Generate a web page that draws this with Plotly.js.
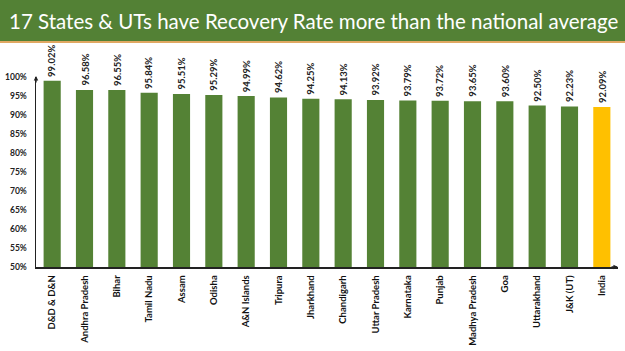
<!DOCTYPE html>
<html>
<head>
<meta charset="utf-8">
<script src="https://cdn.plot.ly/plotly-3.0.1.min.js"></script>
<style>html,body{margin:0;padding:0;background:#fff;}#chart{width:625px;height:351px;}</style>
</head>
<body>
<div id="chart"></div>
<script>
const categories = ["D&D & D&N","Andhra Pradesh","Bihar","Tamil Nadu","Assam","Odisha","A&N Islands","Tripura","Jharkhand","Chandigarh","Uttar Pradesh","Karnataka","Punjab","Madhya Pradesh","Goa","Uttarakhand","J&K (UT)","India"];
const recoveryRate = [99.02,96.58,96.55,95.84,95.51,95.29,94.99,94.62,94.25,94.13,93.92,93.79,93.72,93.65,93.60,92.50,92.23,92.09];
const titleText = "17 States & UTs have Recovery Rate more than the national average";
const yTickVals = [50,55,60,65,70,75,80,85,90,95,100];

const W = 625, H = 351;
const M = {l: 36, r: 7, t: 77, b: 84};
const plotW = W - M.l - M.r;
const plotH = H - M.t - M.b;
const py = px => 1 + (M.t - px) / plotH; // page pixel y -> paper y
const pxX = px => (px - M.l) / plotW;     // page pixel x -> paper x

const colors = categories.map(c => c === "India" ? "#FFC000" : "#548235");
const labelFont = "Lato, 'Open Sans', sans-serif";

const trace = {
  type: "bar",
  x: categories,
  y: recoveryRate,
  marker: {color: colors, line: {width: 0}},
  width: 0.53,
  hoverinfo: "none"
};

const valueLabels = categories.map((c, i) => ({
  xref: "x", yref: "y", x: c, y: recoveryRate[i],
  xanchor: "center", yanchor: "bottom", yshift: 3,
  text: recoveryRate[i].toFixed(2) + "%", textangle: -90,
  showarrow: false, borderpad: 0,
  font: {family: labelFont, size: 9.5, color: "#222", weight: "bold"}
}));

const layout = {
  width: W, height: H,
  margin: M,
  paper_bgcolor: "#fff",
  plot_bgcolor: "#fff",
  showlegend: false,
  xaxis: {
    type: "category",
    showline: true, linecolor: "#222", linewidth: 1.5,
    tickangle: -90,
    ticks: "",
    showgrid: false,
    ticklabelstandoff: 3,
    tickfont: {family: labelFont, size: 9.5, color: "#111", weight: "bold"},
    range: [-0.5, 17.5]
  },
  yaxis: {
    range: [50, 100],
    tickvals: yTickVals,
    ticktext: yTickVals.map(v => v + "%"),
    showline: true, linecolor: "#222", linewidth: 1.5,
    ticks: "", showgrid: false, zeroline: false,
    ticklabelstandoff: 6,
    tickfont: {family: labelFont, size: 8.5, color: "#222", weight: "bold"}
  },
  shapes: [
    {type: "rect", xref: "paper", yref: "paper", x0: pxX(0), x1: pxX(W), y0: py(41), y1: py(0), fillcolor: "#538135", line: {width: 0}, layer: "below"},
    {type: "rect", xref: "paper", yref: "paper", x0: pxX(0), x1: pxX(W), y0: py(43), y1: py(41), fillcolor: "#E0A862", line: {width: 0}, layer: "below"}
  ],
  annotations: [
    {xref: "paper", yref: "paper", x: pxX(7), y: py(21), xanchor: "left", yanchor: "middle",
     text: titleText, showarrow: false, font: {family: "Lato, 'Open Sans', sans-serif", size: 20.5, color: "#fff"}},
    {xref: "paper", yref: "paper", x: 0, y: 1.005, ax: 0, ay: 8, text: "", showarrow: true, arrowhead: 2, arrowsize: 0.7, arrowwidth: 1.3, arrowcolor: "#222"},
    {xref: "paper", yref: "paper", x: 1, y: 0, ax: -8, ay: 0, text: "", showarrow: true, arrowhead: 2, arrowsize: 0.7, arrowwidth: 1.3, arrowcolor: "#222"}
  ].concat(valueLabels)
};

Plotly.newPlot("chart", [trace], layout, {displayModeBar: false, staticPlot: true});
</script>
</body>
</html>
